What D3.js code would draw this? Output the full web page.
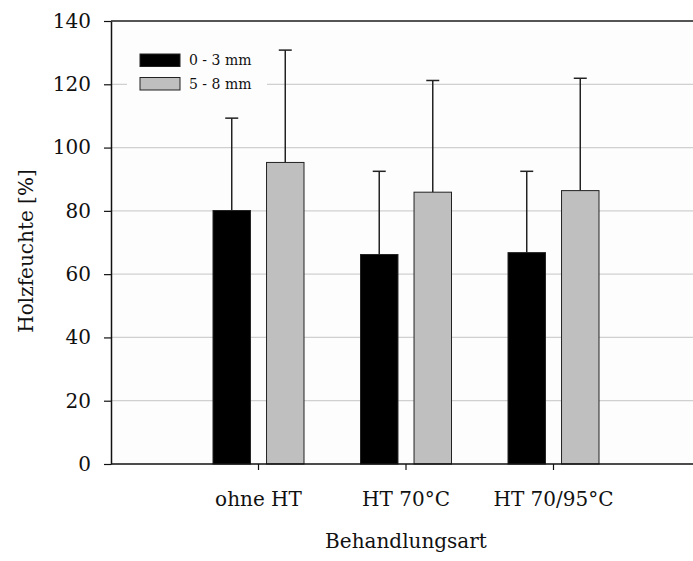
<!DOCTYPE html>
<html>
<head>
<meta charset="utf-8">
<script src="https://cdn.jsdelivr.net/npm/d3@7"></script>
<style>
  body { margin: 0; background: #fff; }
  text { font-family: "DejaVu Serif", serif; fill: #111; }
</style>
</head>
<body>
<div id="chart"></div>
<script>
var categories = ["ohne HT", "HT 70°C", "HT 70/95°C"];
var series = ["0 - 3 mm", "5 - 8 mm"];
var means03 = [80.1, 66.2, 66.8];
var sd03 = [29.2, 26.3, 25.7];
var means58 = [95.3, 85.9, 86.4];
var sd58 = [35.5, 35.3, 35.5];
var yTicks = [0, 20, 40, 60, 80, 100, 120, 140];

var width = 693, height = 561;
// note: "top" is taken by window.top, so use plot* names
var plotLeft = 111, plotRight = 693, plotTop = 21, plotBottom = 464;

var colors = { "0 - 3 mm": "#000000", "5 - 8 mm": "#bfbfbf" };

var svg = d3.select("#chart").append("svg")
  .attr("width", width)
  .attr("height", height);

var y = d3.scaleLinear().domain([0, 140]).range([plotBottom, plotTop]);

// categories sit at 1, 2, 3 steps from the y axis
var step = 147.5;
var x = d3.scaleBand().domain(categories).range([plotLeft + step / 2, plotLeft + step * 3.5]);
var xSub = d3.scaleBand().domain(series).range([-45.5, 45.5]).paddingInner(0.3);

var rows = [];
categories.forEach(function(c, i) {
  rows.push({ cat: c, s: series[0], mean: means03[i], sd: sd03[i] });
  rows.push({ cat: c, s: series[1], mean: means58[i], sd: sd58[i] });
});

svg.append("rect")
  .attr("x", plotLeft).attr("y", plotTop)
  .attr("width", plotRight - plotLeft).attr("height", plotBottom - plotTop)
  .attr("fill", "#fdfdfd");

// gridlines
svg.append("g")
  .selectAll("line")
  .data(yTicks.filter(function(d) { return d > 0 && d < 140; }))
  .enter().append("line")
  .attr("x1", plotLeft).attr("x2", plotRight)
  .attr("y1", function(d) { return y(d); })
  .attr("y2", function(d) { return y(d); })
  .attr("stroke", "#d0d0d0")
  .attr("stroke-width", 1.2);

// top frame line
svg.append("line")
  .attr("x1", plotLeft).attr("x2", plotRight)
  .attr("y1", y(140)).attr("y2", y(140))
  .attr("stroke", "#555")
  .attr("stroke-width", 2);

// legend background (drawn under the error bars)
svg.append("rect")
  .attr("x", 127).attr("y", 46)
  .attr("width", 140).attr("height", 52)
  .attr("fill", "#fdfdfd");

// error bars (upper only)
var err = svg.append("g").selectAll("g")
  .data(rows)
  .enter().append("g")
  .attr("transform", function(d) {
    return "translate(" + (x(d.cat) + x.bandwidth() / 2 + xSub(d.s) + xSub.bandwidth() / 2) + ",0)";
  });

err.append("line")
  .attr("x1", 0).attr("x2", 0)
  .attr("y1", function(d) { return y(d.mean); })
  .attr("y2", function(d) { return y(d.mean + d.sd); })
  .attr("stroke", "#222")
  .attr("stroke-width", 1.5);

err.append("line")
  .attr("x1", -6.5).attr("x2", 6.5)
  .attr("y1", function(d) { return y(d.mean + d.sd); })
  .attr("y2", function(d) { return y(d.mean + d.sd); })
  .attr("stroke", "#222")
  .attr("stroke-width", 1.5);

// bars
svg.append("g").selectAll("rect")
  .data(rows)
  .enter().append("rect")
  .attr("x", function(d) { return x(d.cat) + x.bandwidth() / 2 + xSub(d.s); })
  .attr("y", function(d) { return y(d.mean); })
  .attr("width", xSub.bandwidth())
  .attr("height", function(d) { return y(0) - y(d.mean); })
  .attr("fill", function(d) { return colors[d.s]; })
  .attr("stroke", "#222")
  .attr("stroke-width", 1);

// y axis
var yAxis = svg.append("g")
  .attr("transform", "translate(" + plotLeft + ",0)")
  .call(d3.axisLeft(y).tickValues(yTicks).tickSize(7).tickPadding(13).tickSizeOuter(0));
yAxis.select(".domain").attr("stroke", "#111").attr("stroke-width", 1.5);
yAxis.selectAll(".tick line").attr("stroke", "#111").attr("stroke-width", 1.2);
yAxis.selectAll("text").style("font-size", "20px").attr("fill", "#111");

// x axis
var xAxis = svg.append("g")
  .attr("transform", "translate(0," + plotBottom + ")")
  .call(d3.axisBottom(x).tickSize(6).tickPadding(22).tickSizeOuter(0));
xAxis.select(".domain").attr("d", "M" + plotLeft + ",0H" + plotRight)
  .attr("stroke", "#111").attr("stroke-width", 1.5);
xAxis.selectAll(".tick line").attr("stroke", "#111").attr("stroke-width", 1.2);
xAxis.selectAll("text").style("font-size", "20px").attr("fill", "#111");

// axis titles
svg.append("text")
  .attr("x", 406).attr("y", 548)
  .attr("text-anchor", "middle")
  .style("font-size", "20px")
  .text("Behandlungsart");

svg.append("text")
  .attr("transform", "translate(33,251) rotate(-90)")
  .attr("text-anchor", "middle")
  .style("font-size", "20px")
  .text("Holzfeuchte [%]");

// legend
var li = svg.append("g").selectAll("g.item")
  .data(series)
  .enter().append("g")
  .attr("class", "item")
  .attr("transform", function(d, i) { return "translate(140," + (54 + i * 23.5) + ")"; });

li.append("rect")
  .attr("width", 40).attr("height", 12.5)
  .attr("fill", function(d) { return colors[d]; })
  .attr("stroke", "#222")
  .attr("stroke-width", 1);

li.append("text")
  .attr("x", 49).attr("y", 11)
  .style("font-size", "14px")
  .text(function(d) { return d; });
</script>
</body>
</html>
